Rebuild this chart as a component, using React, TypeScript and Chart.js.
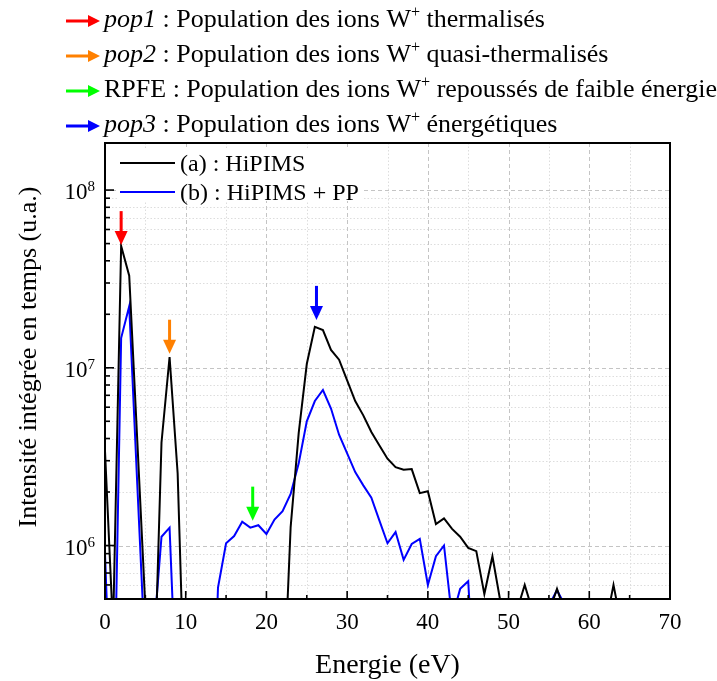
import React, { useEffect, useRef } from 'react';
import { Chart, registerables } from 'chart.js';

Chart.register(...registerables);

// ---------- data ----------
const energies = [
  0, 1, 2, 3, 4, 5, 6, 7, 8, 9,
  10, 11, 12, 13, 14, 15, 16, 17, 18, 19,
  20, 21, 22, 23, 24, 25, 26, 27, 28, 29,
  30, 31, 32, 33, 34, 35, 36, 37, 38, 39,
  40, 41, 42, 43, 44, 45, 46, 47, 48, 49,
  50, 51, 52, 53, 54, 55, 56, 57, 58, 59,
  60, 61, 62, 63, 64, 65, 66, 67, 68, 69, 70,
];

// (a) : HiPIMS
const hipims = [
  3.4e6, 3.4e5, 4.85e7, 3.3e7, 3.9e6, 4.5e5, 1.1e5, 3.8e6, 1.15e7, 2.55e6,
  8e4, 5e4, 5e4, 5e4, 5e4, 5e4, 5e4, 5e4, 5e4, 5e4,
  5e4, 5e4, 1.04e5, 1.27e6, 4.3e6, 1.05e7, 1.7e7, 1.63e7, 1.26e7, 1.11e7,
  8.5e6, 6.5e6, 5.4e6, 4.35e6, 3.65e6, 3.08e6, 2.76e6, 2.67e6, 2.69e6, 1.97e6,
  2.02e6, 1.32e6, 1.42e6, 1.24e6, 1.12e6, 9.7e5, 9.3e5, 5.33e5, 8.7e5, 4.8e5,
  1e5, 4.25e5, 6e5, 4.25e5, 1e5, 4.2e5, 5.7e5, 4.2e5, 1e5, 1e5,
  1e5, 1e5, 3.5e5, 6e5, 3.5e5, 1e5, 1e5, 1e5, 1e5, 1e5, 1e5,
];

// (b) : HiPIMS + PP
const hipimsPP = [
  9e5, 5.3e4, 1.47e7, 2.22e7, 2.2e6, 2.3e5, 3e5, 1.12e6, 1.26e6, 9.4e4,
  5e4, 5e4, 5e4, 3e4, 5.8e5, 1.03e6, 1.13e6, 1.36e6, 1.26e6, 1.3e6,
  1.16e6, 1.4e6, 1.56e6, 1.95e6, 2.9e6, 5e6, 6.5e6, 7.5e6, 5.9e6, 4.2e6,
  3.3e6, 2.59e6, 2.18e6, 1.86e6, 1.38e6, 1.03e6, 1.19e6, 8.3e5, 1.02e6, 1.09e6,
  6e5, 8.7e5, 1e6, 3.9e5, 5.7e5, 6.3e5, 1e5, 5e4, 5e4, 5e4,
  5e4, 5e4, 5e4, 5e4, 5e4, 4.6e5, 5.6e5, 4.6e5, 5e4, 5e4,
  5e4, 5e4, 5e4, 5e4, 5e4, 5e4, 5e4, 5e4, 5e4, 5e4, 5e4,
];

const seriesLabels = ['(a) : HiPIMS', '(b) : HiPIMS + PP'];
const seriesColors = ['#000000', '#0000ff'];

// axis ticks
const xMajorTicks = [0, 10, 20, 30, 40, 50, 60, 70];
const xMinorTicks = [5, 15, 25, 35, 45, 55, 65];
const yMajorTicks = [1e6, 1e7, 1e8];
const yMajorExponents = ['6', '7', '8'];
const yMinorTicks = [
  6e5, 7e5, 8e5, 9e5,
  2e6, 3e6, 4e6, 5e6, 6e6, 7e6, 8e6, 9e6,
  2e7, 3e7, 4e7, 5e7, 6e7, 7e7, 8e7, 9e7,
];
const xMin = 0;
const xMax = 70;
const yMin = 5e5;
const yMax = 1.84e8;

const xTitle = 'Energie (eV)';
const yTitle = 'Intensité intégrée en temps (u.a.)';

// peak arrows (energy, intensity at arrow tip)
const arrowX = [2, 8, 18.3, 26.2];
const arrowY = [4.9e7, 1.2e7, 1.38e6, 1.86e7];
const arrowColors = ['#ff0000', '#ff8000', '#00ff00', '#0000ff'];

// header legend
type Seg = { t: string; i?: boolean; sup?: boolean };
const headerLines: Seg[][] = [
  [{ t: 'pop1', i: true }, { t: ' : Population des ions W' }, { t: '+', sup: true }, { t: ' thermalisés' }],
  [{ t: 'pop2', i: true }, { t: ' : Population des ions W' }, { t: '+', sup: true }, { t: ' quasi-thermalisés' }],
  [{ t: 'RPFE' }, { t: ' : Population des ions W' }, { t: '+', sup: true }, { t: ' repoussés de faible énergie' }],
  [{ t: 'pop3', i: true }, { t: ' : Population des ions W' }, { t: '+', sup: true }, { t: ' énergétiques' }],
];

const FONT = '"Liberation Serif", "Times New Roman", Times, serif';

function drawRich(ctx: CanvasRenderingContext2D, segs: Seg[], x: number, baseline: number, size: number) {
  let cx = x;
  ctx.textAlign = 'left';
  ctx.textBaseline = 'alphabetic';
  for (const s of segs) {
    const sz = s.sup ? size * 0.62 : size;
    ctx.font = `${s.i ? 'italic ' : ''}${sz}px ${FONT}`;
    const y = s.sup ? baseline - size * 0.38 : baseline;
    ctx.fillText(s.t, cx, y);
    cx += ctx.measureText(s.t).width;
  }
}

function arrowDown(ctx: CanvasRenderingContext2D, x: number, tipY: number, color: string) {
  const len = 34, headLen = 14, half = 6.5, shaft = 3;
  ctx.fillStyle = color;
  ctx.fillRect(x - shaft / 2, tipY - len, shaft, len - headLen + 1);
  ctx.beginPath();
  ctx.moveTo(x - half, tipY - headLen);
  ctx.lineTo(x + half, tipY - headLen);
  ctx.lineTo(x, tipY);
  ctx.closePath();
  ctx.fill();
}

function arrowRight(ctx: CanvasRenderingContext2D, x0: number, y: number, color: string) {
  const len = 34, headLen = 12, half = 6, shaft = 3;
  ctx.fillStyle = color;
  ctx.fillRect(x0, y - shaft / 2, len - headLen + 1, shaft);
  ctx.beginPath();
  ctx.moveTo(x0 + len - headLen, y - half);
  ctx.lineTo(x0 + len - headLen, y + half);
  ctx.lineTo(x0 + len, y);
  ctx.closePath();
  ctx.fill();
}

const decorPlugin = {
  id: 'decor',
  beforeDatasetsDraw(chart: any) {
    const { ctx, chartArea: a, scales } = chart;
    const xs = scales.x, ys = scales.y;
    ctx.save();
    ctx.lineWidth = 1;
    // minor grid (dotted)
    ctx.strokeStyle = '#dddddd';
    ctx.setLineDash([1.5, 2]);
    for (const v of xMinorTicks) {
      const px = Math.round(xs.getPixelForValue(v)) + 0.5;
      ctx.beginPath(); ctx.moveTo(px, a.top); ctx.lineTo(px, a.bottom); ctx.stroke();
    }
    for (const v of yMinorTicks) {
      const py = Math.round(ys.getPixelForValue(v)) + 0.5;
      ctx.beginPath(); ctx.moveTo(a.left, py); ctx.lineTo(a.right, py); ctx.stroke();
    }
    // major grid (dashed)
    ctx.strokeStyle = '#c4c4c4';
    ctx.setLineDash([4, 3]);
    for (const v of xMajorTicks) {
      const px = Math.round(xs.getPixelForValue(v)) + 0.5;
      ctx.beginPath(); ctx.moveTo(px, a.top); ctx.lineTo(px, a.bottom); ctx.stroke();
    }
    for (const v of yMajorTicks) {
      const py = Math.round(ys.getPixelForValue(v)) + 0.5;
      ctx.beginPath(); ctx.moveTo(a.left, py); ctx.lineTo(a.right, py); ctx.stroke();
    }
    ctx.restore();
  },
  afterDatasetsDraw(chart: any) {
    const { ctx, chartArea: a, scales } = chart;
    const xs = scales.x, ys = scales.y;
    ctx.save();
    ctx.setLineDash([]);

    // peak arrows
    arrowX.forEach((xv, i) => {
      arrowDown(ctx, xs.getPixelForValue(xv), ys.getPixelForValue(arrowY[i]), arrowColors[i]);
    });

    // in-plot legend
    ctx.fillStyle = '#ffffff';
    ctx.fillRect(a.left + 13, a.top + 6, 245, 52);
    seriesLabels.forEach((lab, i) => {
      const y = a.top + 20 + i * 29;
      ctx.strokeStyle = seriesColors[i];
      ctx.lineWidth = 2;
      ctx.beginPath(); ctx.moveTo(a.left + 15, y); ctx.lineTo(a.left + 70, y); ctx.stroke();
      ctx.fillStyle = '#000';
      ctx.font = `24px ${FONT}`;
      ctx.textAlign = 'left';
      ctx.textBaseline = 'alphabetic';
      ctx.fillText(lab, a.left + 75, y + 8);
    });

    // frame
    ctx.strokeStyle = '#000';
    ctx.lineWidth = 2;
    ctx.strokeRect(a.left, a.top, a.right - a.left, a.bottom - a.top);

    // ticks (inward)
    ctx.lineWidth = 1.6;
    for (const v of xMajorTicks) {
      const px = xs.getPixelForValue(v);
      ctx.beginPath(); ctx.moveTo(px, a.bottom); ctx.lineTo(px, a.bottom - 8); ctx.stroke();
    }
    for (const v of xMinorTicks) {
      const px = xs.getPixelForValue(v);
      ctx.beginPath(); ctx.moveTo(px, a.bottom); ctx.lineTo(px, a.bottom - 4); ctx.stroke();
    }
    for (const v of yMajorTicks) {
      const py = ys.getPixelForValue(v);
      ctx.beginPath(); ctx.moveTo(a.left, py); ctx.lineTo(a.left + 9, py); ctx.stroke();
    }
    for (const v of yMinorTicks) {
      const py = ys.getPixelForValue(v);
      ctx.beginPath(); ctx.moveTo(a.left, py); ctx.lineTo(a.left + 5, py); ctx.stroke();
    }

    // tick labels
    ctx.fillStyle = '#000';
    ctx.font = `23px ${FONT}`;
    ctx.textAlign = 'center';
    ctx.textBaseline = 'alphabetic';
    for (const v of xMajorTicks) {
      ctx.fillText(String(v), xs.getPixelForValue(v), a.bottom + 30);
    }
    yMajorTicks.forEach((v, i) => {
      const py = ys.getPixelForValue(v);
      ctx.textAlign = 'right';
      ctx.font = `15px ${FONT}`;
      const ew = ctx.measureText(yMajorExponents[i]).width;
      const right = a.left - 10;
      ctx.fillText(yMajorExponents[i], right, py + 1);
      ctx.font = `23px ${FONT}`;
      ctx.fillText('10', right - ew, py + 9);
    });

    // axis titles
    ctx.font = `28px ${FONT}`;
    ctx.textAlign = 'center';
    ctx.fillText(xTitle, (a.left + a.right) / 2, a.bottom + 74);
    ctx.save();
    ctx.translate(36, 357);
    ctx.rotate(-Math.PI / 2);
    ctx.font = `26px ${FONT}`;
    ctx.textAlign = 'center';
    ctx.textBaseline = 'alphabetic';
    ctx.fillText(yTitle, 0, 0);
    ctx.restore();

    // header legend
    headerLines.forEach((segs, i) => {
      const base = 27 + i * 35;
      arrowRight(ctx, 66, base - 6, arrowColors[i]);
      ctx.fillStyle = '#000';
      drawRich(ctx, segs, 104, base, 26);
    });

    ctx.restore();
  },
};

export default function App() {
  const ref = useRef<HTMLCanvasElement | null>(null);
  useEffect(() => {
    document.body.style.margin = '0';
    const canvas = ref.current;
    if (!canvas) return;
    const chart = new Chart(canvas, {
      type: 'line',
      data: {
        datasets: [
          {
            label: seriesLabels[0],
            data: energies.map((e, i) => ({ x: e, y: hipims[i] })),
            borderColor: seriesColors[0],
            borderWidth: 2,
            pointRadius: 0,
            tension: 0,
            fill: false,
            clip: 0,
          },
          {
            label: seriesLabels[1],
            data: energies.map((e, i) => ({ x: e, y: hipimsPP[i] })),
            borderColor: seriesColors[1],
            borderWidth: 2,
            pointRadius: 0,
            tension: 0,
            fill: false,
            clip: 0,
          },
        ],
      },
      options: {
        responsive: false,
        animation: false,
        devicePixelRatio: 1,
        layout: { padding: { left: 105, top: 143, right: 47, bottom: 82 } },
        scales: {
          x: { type: 'linear', min: xMin, max: xMax, display: false },
          y: { type: 'logarithmic', min: yMin, max: yMax, display: false },
        },
        plugins: { legend: { display: false }, tooltip: { enabled: false } },
        events: [],
      },
      plugins: [decorPlugin],
    } as any);
    return () => chart.destroy();
  }, []);
  return (
    <div style={{ width: 717, height: 681, background: '#fff', position: 'relative' }}>
      <canvas ref={ref} width={717} height={681} style={{ display: 'block', width: 717, height: 681 }} />
    </div>
  );
}
